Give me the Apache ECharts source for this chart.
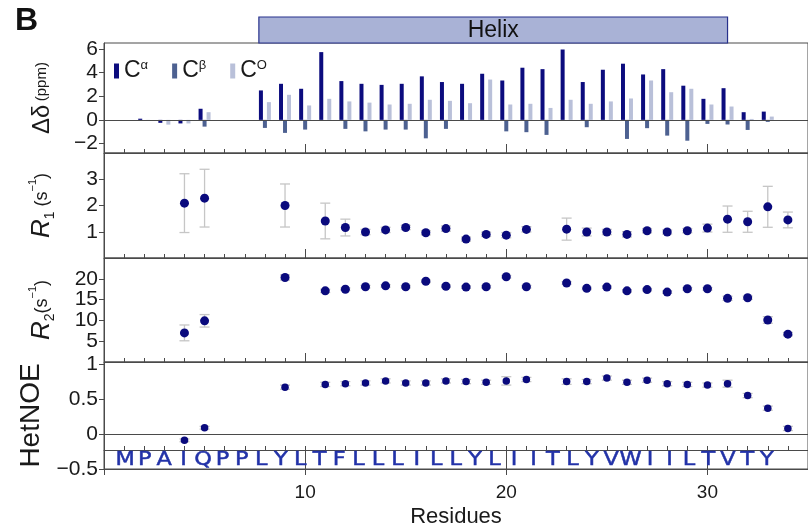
<!DOCTYPE html>
<html><head><meta charset="utf-8">
<script src="https://cdn.jsdelivr.net/npm/echarts@6/dist/echarts.min.js"></script>
<style>html,body{margin:0;padding:0;background:#fff}#c{width:808px;height:531px}</style>
</head><body><div id="c"></div>
<script>
// ---------------- data ----------------
const residues = [1,2,3,4,5,6,7,8,9,10,11,12,13,14,15,16,17,18,19,20,21,22,23,24,25,26,27,28,29,30,31,32,33,34];
const sequence = ['M','P','A','I','Q','P','P','L','Y','L','T','F','L','L','L','I','L','L','Y','L','I','I','T','L','Y','V','W','I','I','L','T','V','T','Y'];
const seriesNames = ['Cα','Cβ','CO'];
const shiftCA = [null,0.1,-0.25,-0.3,0.94,null,null,2.49,3.05,2.63,5.73,3.28,3.05,2.96,3.05,3.68,3.2,3.05,3.9,3.33,4.41,4.29,5.95,3.2,4.24,4.75,3.84,4.29,2.89,1.78,2.68,0.65,0.7,null];
const shiftCB = [null,null,null,null,-0.57,null,null,-0.68,-1.1,-0.82,null,-0.76,-0.97,-0.82,-0.82,-1.56,-0.76,null,null,-0.97,-1.04,-1.27,null,-0.62,null,-1.61,-0.7,-1.33,-1.76,-0.34,-0.39,-0.85,-0.17,null];
const shiftCO = [null,-0.08,-0.4,-0.3,0.65,null,null,1.5,2.12,1.22,1.78,1.56,1.46,1.3,1.36,1.7,1.61,1.41,3.41,1.3,1.36,1.01,1.7,1.36,1.56,1.81,3.33,2.34,2.63,1.3,1.13,0.08,0.28,null];
const r1Val = [null,null,null,2.09,2.28,null,null,null,2.0,null,1.41,1.16,0.99,1.07,1.16,0.96,1.12,0.72,0.9,0.87,1.09,null,1.1,0.99,0.99,0.9,1.04,0.99,1.04,1.14,1.48,1.38,1.95,1.45];
const r1Err = [null,null,null,1.12,1.1,null,null,null,0.82,null,0.68,0.32,0.1,0.1,0.08,0.08,0.1,0.08,0.08,0.1,0.1,null,0.42,0.15,0.1,0.1,0.08,0.08,0.08,0.15,0.5,0.4,0.78,0.3];
const r2Val = [null,null,null,7.0,9.9,null,null,null,20.3,null,17.1,17.5,18.1,18.3,18.1,19.4,18.2,18.0,18.1,20.5,18.1,null,19.0,17.7,18.0,17.1,17.4,16.8,17.6,17.6,15.3,15.45,10.1,6.7];
const r2Err = [null,null,null,1.9,1.5,null,null,null,0.6,null,0.4,0.3,0.3,0.3,0.3,0.3,0.3,0.3,0.3,0.3,0.3,null,0.3,0.3,0.3,0.3,0.3,0.3,0.3,0.3,0.5,0.4,0.8,0.4];
const noeVal = [null,null,null,-0.09,0.09,null,null,null,0.67,null,0.71,0.72,0.73,0.76,0.73,0.73,0.76,0.75,0.74,0.76,0.78,null,0.75,0.75,0.8,0.74,0.77,0.72,0.71,0.7,0.72,0.55,0.37,0.08];
const noeErr = [null,null,null,0.02,0.02,null,null,null,0.03,null,0.03,0.03,0.03,0.03,0.03,0.03,0.03,0.03,0.03,0.06,0.03,null,0.04,0.03,0.03,0.03,0.03,0.03,0.03,0.03,0.05,0.03,0.03,0.03];
const helixRange = [7.7, 31.0];
const helixLabel = 'Helix';
const shiftTicks = [-2,0,2,4,6];
const r1Ticks = [1,2,3];
const r2Ticks = [5,10,15,20];
const noeTicks = [-0.5,0,0.5,1];
const xTicks = [10,20,30];

// ---------------- helpers ----------------
const FONT = '"Liberation Sans", Arial, sans-serif';
const AX = '#4a4a4a';
const C_A = '#0c0c7e', C_B = '#4d6191', C_O = '#b9c0d9', DOT = '#0a0a7d', ERR = '#c6c6c6', SEQ = '#2232a8';
function pairs(v){ return residues.map((r,i)=> v[i]==null?null:[r,v[i]]).filter(Boolean); }
function errs(v,e){ return residues.map((r,i)=> v[i]==null?null:[r, v[i]-e[i], v[i]+e[i]]).filter(Boolean); }
function errRender(params, api){
  const x = api.value(0), lo = api.value(1), hi = api.value(2);
  const a = api.coord([x, hi]), b = api.coord([x, lo]);
  const w = 5, st = {stroke: ERR, lineWidth: 1.3};
  return {type:'group', children:[
    {type:'line', shape:{x1:a[0],y1:a[1],x2:b[0],y2:b[1]}, style:st},
    {type:'line', shape:{x1:a[0]-w,y1:a[1],x2:a[0]+w,y2:a[1]}, style:st},
    {type:'line', shape:{x1:b[0]-w,y1:b[1],x2:b[0]+w,y2:b[1]}, style:st}
  ]};
}
function helixRender(params, api){
  const s = api.coord([api.value(0), 1]), e = api.coord([api.value(1), 0]);
  return {type:'group', children:[
    {type:'rect', shape:{x:s[0], y:s[1], width:e[0]-s[0], height:e[1]-s[1]}, style:{fill:'#a9b2d6', stroke:'#27308c', lineWidth:1.2}},
    {type:'text', style:{text:helixLabel, x:(s[0]+e[0])/2, y:(s[1]+e[1])/2+1, align:'center', verticalAlign:'middle', font:'23px "Liberation Sans", Arial', fill:'#111'}}
  ]};
}
function seqRender(params, api){
  const p = api.coord([api.value(0), api.value(1)]);
  return {type:'text', x:p[0], y:p[1], scaleX:1.12, scaleY:1, originX:0, originY:0,
    style:{text:sequence[params.dataIndex], x:0, y:0, align:'center', verticalAlign:'middle',
      font:'20px "DejaVu Sans", Verdana, sans-serif', fill:SEQ, stroke:SEQ, lineWidth:0.5}};
}
const L = 104, W = 706;
function gridBox(top, height){ return {left:L, width:W, top:top, height:height, show:true, borderColor:AX, borderWidth:1, backgroundColor:'transparent'}; }
function minorX(g, extra){ return Object.assign({gridIndex:g, type:'value', min:0, max:35, interval:1, position:'bottom',
  axisLine:{show:true, onZero:false, lineStyle:{color:AX}}, axisTick:{show:true, inside:true, length:4, lineStyle:{color:AX}},
  axisLabel:{show:false}, splitLine:{show:false}}, extra||{}); }
function majorX(g, extra){ return Object.assign({gridIndex:g, type:'value', min:0, max:35, interval:10, position:'bottom',
  axisLine:{show:false, onZero:false}, axisTick:{show:true, inside:true, length:9, lineStyle:{color:AX}},
  axisLabel:{show:false}, splitLine:{show:false}}, extra||{}); }
const fmt = v => String(v).replace('-', '\u2212');
function yAx(g, min, max, ticks, name, gap, rich){
  return {gridIndex:g, type:'value', min:min, max:max,
    axisLine:{show:true, onZero:false, lineStyle:{color:AX}},
    axisTick:{show:true, inside:false, length:5, customValues:ticks, lineStyle:{color:AX}},
    axisLabel:{customValues:ticks, fontSize:21, color:'#1a1a1a', fontFamily:FONT, margin:6, formatter:fmt},
    splitLine:{show:false},
    name:name, nameLocation:'middle', nameRotate:90, nameGap:gap,
    nameTextStyle:{color:'#1a1a1a', fontFamily:FONT, rich:rich}};
}
const rRich = {
  i:{fontSize:26, fontStyle:'italic', fontFamily:FONT, color:'#1a1a1a', lineHeight:30},
  b:{fontSize:14, fontFamily:FONT, color:'#1a1a1a', verticalAlign:'bottom'},
  p:{fontSize:18, fontFamily:FONT, color:'#1a1a1a'},
  t:{fontSize:11, fontFamily:FONT, color:'#1a1a1a', verticalAlign:'top'}
};

const option = {
  animation:false,
  textStyle:{fontFamily:FONT},
  title:{text:'B', left:10, top:0, textStyle:{fontSize:32, fontWeight:'bold', color:'#111', fontFamily:FONT}},
  legend:{data:seriesNames, left:109, top:54, itemWidth:5, itemHeight:15, itemGap:24, icon:'rect',
    formatter: n => '{c|C}{s|' + n.slice(1) + '}',
    textStyle:{rich:{c:{fontSize:23, fontFamily:FONT, color:'#1a1a1a', lineHeight:24}, s:{fontSize:13, fontFamily:FONT, color:'#1a1a1a', verticalAlign:'top'}}}},
  grid:[gridBox(43,110), gridBox(153,105), gridBox(258,104), gridBox(362,107),
        {left:L, width:W, top:17, height:26, show:false},
        {left:115.5, width:661, top:450, height:19, show:false}],
  xAxis:[
    minorX(0), majorX(0),
    minorX(1), majorX(1),
    minorX(2), majorX(2),
    minorX(3, {offset:-19}),
    majorX(3, {axisLine:{show:true, onZero:false, lineStyle:{color:AX}}, axisTick:{show:true, inside:true, length:22, lineStyle:{color:AX}},
      axisLabel:{show:true, customValues:xTicks, fontSize:19, color:'#1a1a1a', fontFamily:FONT, margin:14},
      name:'Residues', nameLocation:'middle', nameGap:37, nameTextStyle:{fontSize:22, color:'#1a1a1a', fontFamily:FONT}}),
    majorX(3, {axisTick:{show:true, inside:false, length:6, lineStyle:{color:AX}}}),
    {gridIndex:4, type:'value', min:0, max:35, show:false},
    {gridIndex:5, type:'category', data:residues, show:false, boundaryGap:true}
  ],
  yAxis:[
    yAx(0, -2.8, 6.5, shiftTicks, '{g|\u0394\u03b4} {p|(ppm)}', 50, {g:{fontSize:24, fontFamily:FONT, color:'#1a1a1a'}, p:{fontSize:15, fontFamily:FONT, color:'#1a1a1a'}}),
    yAx(1, 0, 4, r1Ticks, '{i|R}{b|1}{p| (s}{t|\u22121}{p|)}', 47, rRich),
    yAx(2, 0, 25, r2Ticks, '{i|R}{b|2}{p|(s}{t|\u22121}{p|)}', 47, rRich),
    yAx(3, -0.5, 1.03, noeTicks, '{h|HetNOE}', 45, {h:{fontSize:28, fontFamily:FONT, color:'#1a1a1a'}}),
    {gridIndex:4, type:'value', min:0, max:1, show:false},
    {gridIndex:5, type:'value', min:0, max:1, show:false}
  ],
  series:[
    {type:'custom', xAxisIndex:9, yAxisIndex:4, data:[helixRange], renderItem:helixRender, encode:{x:[0,1]}, silent:true},
    {type:'bar', name:seriesNames[0], xAxisIndex:0, yAxisIndex:0, data:pairs(shiftCA), barWidth:4, barGap:'0%', itemStyle:{color:C_A},
      markLine:{silent:true, symbol:['none','none'], label:{show:false}, lineStyle:{color:AX, width:1, type:'solid'}, data:[{yAxis:0}]}},
    {type:'bar', name:seriesNames[1], xAxisIndex:0, yAxisIndex:0, data:pairs(shiftCB), barWidth:4, barGap:'0%', itemStyle:{color:C_B}},
    {type:'bar', name:seriesNames[2], xAxisIndex:0, yAxisIndex:0, data:pairs(shiftCO), barWidth:4, barGap:'0%', itemStyle:{color:C_O}},
    {type:'custom', xAxisIndex:2, yAxisIndex:1, data:errs(r1Val,r1Err), renderItem:errRender, encode:{x:0, y:[1,2]}, z:1, silent:true},
    {type:'scatter', xAxisIndex:2, yAxisIndex:1, data:pairs(r1Val), symbolSize:9, itemStyle:{color:DOT, opacity:1}, z:3},
    {type:'custom', xAxisIndex:4, yAxisIndex:2, data:errs(r2Val,r2Err), renderItem:errRender, encode:{x:0, y:[1,2]}, z:1, silent:true},
    {type:'scatter', xAxisIndex:4, yAxisIndex:2, data:pairs(r2Val), symbolSize:9, itemStyle:{color:DOT, opacity:1}, z:3},
    {type:'custom', xAxisIndex:7, yAxisIndex:3, data:errs(noeVal,noeErr), renderItem:errRender, encode:{x:0, y:[1,2]}, z:1, silent:true},
    {type:'scatter', xAxisIndex:7, yAxisIndex:3, data:pairs(noeVal), symbolSize:7.5, itemStyle:{color:DOT, opacity:1}, z:3,
      markLine:{silent:true, symbol:['none','none'], label:{show:false}, lineStyle:{color:AX, width:1, type:'solid'}, data:[{yAxis:0}]}},
    {type:'custom', xAxisIndex:10, yAxisIndex:5, data:sequence.map((s,i)=>[i,0.5]), renderItem:seqRender, encode:{x:0, y:1}, silent:true}
  ]
};
const chart = echarts.init(document.getElementById('c'), null, {renderer:'canvas', width:808, height:531});
chart.setOption(option);
</script></body></html>
